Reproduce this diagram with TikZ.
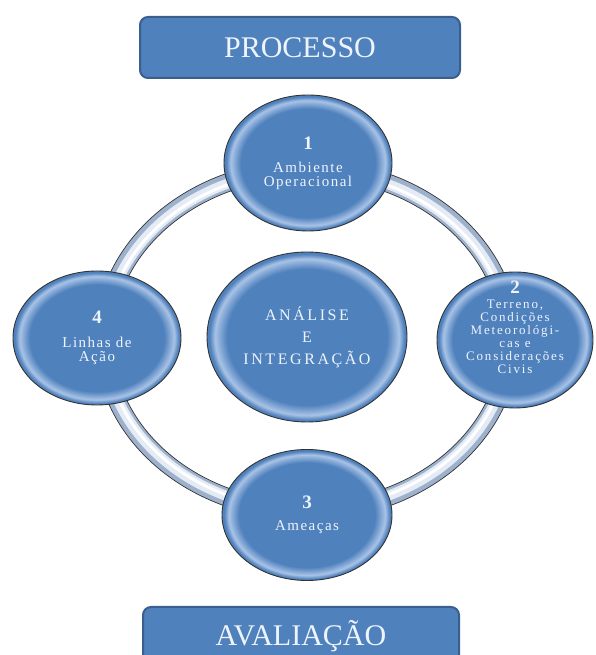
\documentclass[tikz,border=0pt]{standalone}
\usepackage{fontspec}
\setmainfont{Liberation Serif}
\usetikzlibrary{shapes.geometric}

\definecolor{discblue}{HTML}{4F81BD}
\definecolor{discrim}{HTML}{A9C3E6}
\definecolor{boxline}{HTML}{3A5F8E}
\definecolor{paletext}{HTML}{EEF4FB}
\definecolor{ringedge}{HTML}{9DB1CD}
\definecolor{ringmid}{HTML}{E4EBF5}

\pgfdeclareradialshading{discgloss}{\pgfpoint{0bp}{0bp}}{%
  color(0bp)=(discblue); color(20bp)=(discblue); color(23bp)=(discrim);
  color(24.4bp)=(discblue); color(25bp)=(discblue); color(50bp)=(discblue)}

\newcommand{\discnum}[1]{{\fontsize{19}{19}\selectfont\bfseries #1}}

\tikzset{
  disc/.style={ellipse, draw=black!80, line width=0.9pt, shading=discgloss, inner sep=0pt},
  caption/.style={text=paletext, align=center,
    font=\fontsize{15}{14}\selectfont\addfontfeature{LetterSpace=10}},
  banner/.style={rectangle, rounded corners=8pt, draw=boxline, line width=2pt,
    fill=discblue, text=paletext, font=\fontsize{30}{30}\selectfont},
}

\begin{document}
\begin{tikzpicture}[x=1pt,y=1pt]
  \useasboundingbox (0,0) rectangle (595,655);
  \clip (0,0) rectangle (595,655);

  \coordinate(hub) at (307,315);

  % ring behind the discs
  \draw[ringedge, line width=18pt] (hub) ellipse [x radius=203, y radius=171];
  \draw[ringmid, line width=10pt] (hub) ellipse [x radius=202, y radius=170];
  \draw[white, line width=3pt] (hub) ellipse [x radius=201, y radius=169];
  \draw[black!80, line width=.7pt]
    (hub) ellipse [x radius=212, y radius=180]
    (hub) ellipse [x radius=194, y radius=162];

  \node(processo)[banner, minimum width=320, minimum height=61] at (300,607.5) {PROCESSO};
  \node(avaliacao)[banner, minimum width=316, minimum height=58] at (301,19) {AVALIAÇÃO};

  \node(ambiente)[disc, minimum width=168, minimum height=136] at (308,492) {};
  \node(terreno)[disc, minimum width=156, minimum height=136] at (515,315) {};
  \node(ameacas)[disc, minimum width=170, minimum height=131] at (307,140) {};
  \node(linhas)[disc, minimum width=168, minimum height=134] at (97,317) {};
  \node(analise)[disc, minimum width=200, minimum height=170] at (307,318) {};

  \node(ambiente-txt)[caption] at (ambiente) {\discnum{1}\\[9pt]Ambiente\\Operacional};
  \node(terreno-txt)[caption, font=\fontsize{13}{13}\selectfont\addfontfeature{LetterSpace=14}]
    at ([yshift=13pt]terreno.center)
    {\discnum{2}\\[2pt]Terreno,\\Condições\\Meteorológi-\\cas e\\Considerações\\Civis};
  \node(ameacas-txt)[caption] at (ameacas) {\discnum{3}\\[8pt]Ameaças};
  \node(linhas-txt)[caption] at (linhas) {\discnum{4}\\[10pt]Linhas de\\Ação};
  \node(analise-txt)[caption, font=\fontsize{16}{22}\selectfont\addfontfeature{LetterSpace=16}]
    at (analise) {ANÁLISE\\E\\INTEGRAÇÃO};
\end{tikzpicture}
\end{document}
